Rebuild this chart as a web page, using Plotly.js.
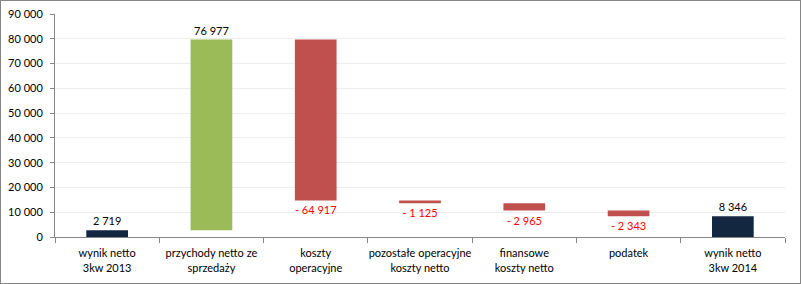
<!DOCTYPE html>
<html><head><meta charset="utf-8">
<script src="https://cdn.plot.ly/plotly-3.0.1.min.js"></script>
<style>
html,body{margin:0;padding:0;background:#fff;}
#wrap{position:relative;width:801px;height:284px;}
#chart{width:801px;height:284px;}
#frame{position:absolute;left:0;top:0;width:799px;height:282px;border:1px solid #868686;pointer-events:none;}
</style></head>
<body>
<div id="wrap"><div id="chart"></div><div id="frame"></div></div>
<script>
var categories = ["wynik netto<br>3kw 2013","przychody netto ze<br>sprzedaży","koszty<br>operacyjne","pozostałe operacyjne<br>koszty netto","finansowe<br>koszty netto","podatek","wynik netto<br>3kw 2014"];
var measures = ["absolute","relative","relative","relative","relative","relative","total"];
var values = [2719, 76977, -64917, -1125, -2965, -2343, 8346];
var yTickVals = [0,10000,20000,30000,40000,50000,60000,70000,80000,90000];
var yTickText = ["0","10 000","20 000","30 000","40 000","50 000","60 000","70 000","80 000","90 000"];

function fmt(v){
  var s = Math.abs(v).toString().replace(/\B(?=(\d{3})+(?!\d))/g, " ");
  return (v < 0 ? "- " : "") + s;
}
var labels = values.map(fmt);
var labelColors = values.map(function(v){ return v < 0 ? "#FF0000" : "#000000"; });

var trace = {
  type: "waterfall",
  x: categories,
  y: values.map(function(v,i){ return measures[i]==="total" ? 0 : v; }),
  measure: measures,
  text: labels,
  textinfo: "text",
  textposition: "outside",
  textfont: {family: "Lato, 'Liberation Sans', sans-serif", size: 11, color: labelColors},
  cliponaxis: false,
  increasing: {marker: {color: "#9BBB59"}},
  decreasing: {marker: {color: "#C0504D"}},
  totals: {marker: {color: "#132740"}},
  connector: {visible: false},
  hoverinfo: "none"
};

var layout = {
  width: 801, height: 284,
  margin: {l: 55, r: 16, t: 14, b: 47, pad: 0},
  paper_bgcolor: "#ffffff", plot_bgcolor: "#ffffff",
  showlegend: false,
  waterfallgap: 0.6,
  font: {family: "Lato, 'Liberation Sans', sans-serif", size: 11, color: "#000"},
  xaxis: {
    type: "category",
    showline: true, linecolor: "#868686", linewidth: 1,
    ticks: "outside", ticklen: 5, tickcolor: "#868686", tickson: "boundaries",
    tickangle: 0, ticklabelstandoff: 6,
    showgrid: false, tickfont: {size: 11, color: "#000"},
    fixedrange: true
  },
  yaxis: {
    range: [0, 90000],
    tickvals: yTickVals, ticktext: yTickText,
    showline: true, linecolor: "#868686", linewidth: 1,
    ticks: "outside", ticklen: 4, tickcolor: "#868686",
    ticklabelstandoff: 5,
    showgrid: true, gridcolor: "#EDEDED", gridwidth: 1,
    zeroline: false, tickfont: {size: 11, color: "#000"},
    fixedrange: true
  }
};
Plotly.newPlot("chart", [trace], layout, {displayModeBar: false, staticPlot: true});
</script>
</body></html>
